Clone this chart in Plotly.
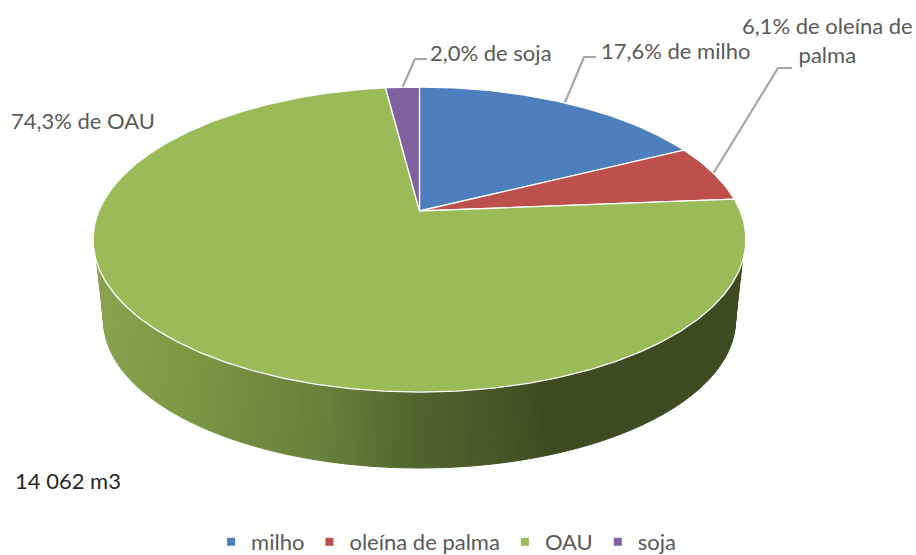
import numpy as np
import plotly.graph_objects as go

# --- data ---
categories = ["milho", "oleína de palma", "OAU", "soja"]
shares = [17.6, 6.1, 74.3, 2.0]
colors = ["#4c7fbb", "#bd4f4c", "#9bbb59", "#7f61a0"]
total_label = "14 062 m3"
label_text = {
    "milho": "17,6% de milho",
    "oleína de palma": "6,1% de oleína de<br>palma",
    "OAU": "74,3% de OAU",
    "soja": "2,0% de soja",
}

# --- pie geometry (perspective view of a disc, in page pixels) ---
W, H = 916, 555
CX, CY = 419.5, 211.0
K, A, B = 0.187, 320.7, 147.2
FONT = "Lato, Carlito, Calibri, sans-serif"
TEXT = "#595959"


def project(deg):
    t = np.radians(deg)
    X, Y = np.sin(t), -np.cos(t)
    d = 1 - K * Y
    return CX + A * X / d, CY + B * Y / d


# side of the disc: top rim and lower rim ellipses
TOP = (419.5, 239.5, 326.5, 152.5)
LOW = (419.5, 320.0, 316.0, 148.0)
SIDE_STOPS = [(93, (0x8b, 0xa3, 0x50)), (200, (0x7c, 0x96, 0x45)), (330, (0x68, 0x7e, 0x3a)),
              (420, (0x53, 0x63, 0x2d)), (500, (0x47, 0x55, 0x26)), (540, (0x3f, 0x4a, 0x22)),
              (746, (0x3f, 0x4a, 0x22))]


def side_color(x):
    xs = [s[0] for s in SIDE_STOPS]
    rgb = [np.interp(x, xs, [s[1][i] for s in SIDE_STOPS]) for i in range(3)]
    return "rgb(%d,%d,%d)" % tuple(int(round(v)) for v in rgb)


fig = go.Figure()
N = 140
f = np.linspace(0, 1, N + 1)
phi_top = np.radians(171.5 - (171.5 - 8.5) * f)
phi_low = np.radians(180 - 180 * f)
tx = TOP[0] + TOP[2] * np.cos(phi_top)
ty = TOP[1] + TOP[3] * np.sin(phi_top)
lx = LOW[0] + LOW[2] * np.cos(phi_low)
ly = LOW[1] + LOW[3] * np.sin(phi_low)
for i in range(N):
    c = side_color((tx[i] + tx[i + 1]) / 2)
    fig.add_trace(go.Scatter(
        x=[tx[i], tx[i + 1], lx[i + 1], lx[i], tx[i]],
        y=[ty[i], ty[i + 1], ly[i + 1], ly[i], ty[i]],
        mode="lines", fill="toself", fillcolor=c, line=dict(color=c, width=1),
        hoverinfo="skip", showlegend=False))

# top slices, clockwise from 12 o'clock
cum = np.concatenate([[0], np.cumsum(shares)]) / sum(shares) * 360
mids = {}
for name, color, a0, a1 in zip(categories, colors, cum[:-1], cum[1:]):
    deg = np.linspace(a0, a1, max(int(a1 - a0) * 2, 8))
    px, py = project(deg)
    fig.add_trace(go.Scatter(
        x=np.concatenate([[CX], px, [CX]]), y=np.concatenate([[CY], py, [CY]]),
        mode="lines", fill="toself", fillcolor=color,
        line=dict(color="white", width=1.3), name=name, showlegend=False,
        hovertemplate=name + "<extra></extra>"))
    mids[name] = project((a0 + a1) / 2)

# legend entries
for name, color in zip(categories, colors):
    fig.add_trace(go.Scatter(
        x=[None], y=[None], mode="markers", name=name,
        marker=dict(symbol="square", size=8, color=color)))

# leader lines: slice midpoint -> elbow -> label
elbows = {
    "soja": [(415, 59), (427, 59)],
    "milho": [(584, 57), (596, 57)],
    "oleína de palma": [(778, 68), (792, 68)],
}
shapes = []
for name, pts in elbows.items():
    mx, my = mids[name]
    path = f"M{mx:.1f},{my:.1f} " + " ".join(f"L{x},{y}" for x, y in pts)
    shapes.append(dict(type="path", path=path, xref="x", yref="y",
                       line=dict(color="#a6a6a6", width=2.2), layer="below"))

placement = {
    "soja": (428, 52, "left"),
    "milho": (599, 50, "left"),
    "oleína de palma": (827, 40, "center"),
    "OAU": (9, 120, "left"),
}
annotations = []
for name, (x, y, al) in placement.items():
    annotations.append(dict(
        x=x, y=y, xref="x", yref="y", text=label_text[name], showarrow=False,
        xanchor=al, yanchor="middle", align=al,
        font=dict(family=FONT, size=22, color=TEXT)))
annotations.append(dict(x=13, y=480, xref="x", yref="y", text=total_label, showarrow=False,
                        xanchor="left", yanchor="middle",
                        font=dict(family=FONT, size=22, color="#262626")))

fig.update_layout(
    width=W, height=H, margin=dict(l=0, r=0, t=0, b=0, autoexpand=False),
    paper_bgcolor="white", plot_bgcolor="white",
    xaxis=dict(range=[0, W], visible=False, fixedrange=True),
    yaxis=dict(range=[H, 0], visible=False, fixedrange=True),
    shapes=shapes, annotations=annotations,
    legend=dict(orientation="h", x=0.487, xanchor="center", y=-0.0144, yanchor="bottom",
                font=dict(family=FONT, size=22, color=TEXT), itemwidth=30,
                bgcolor="rgba(0,0,0,0)"),
)

fig.write_html("out.html", config={"displayModeBar": False},
               post_script="document.body.style.margin='0';document.body.style.overflow='hidden';")
